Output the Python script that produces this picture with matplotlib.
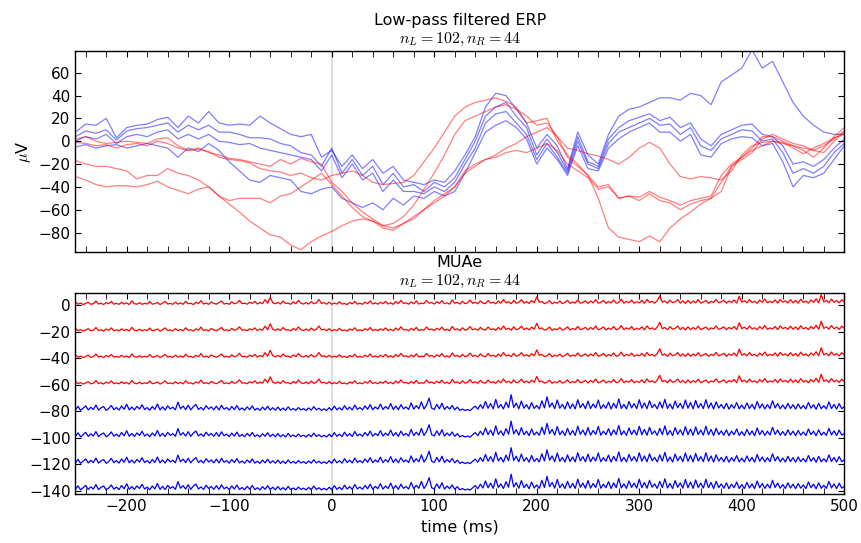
import numpy as np
import matplotlib
matplotlib.use("Agg")
import matplotlib.pyplot as plt
from matplotlib.ticker import MultipleLocator

plt.rcParams['mathtext.fontset'] = 'cm'
plt.rcParams['font.family'] = 'DejaVu Sans'

# ERP promedio por canal (uV), una muestra cada 10 ms
t_erp = np.arange(-250, 501, 10)

erp_azul_1 = [8, 15, 14, 20, 3, 12, 14, 15, 19, 21,
              12, 22, 16, 26, 16, 14, 15, 14, 22, 16,
              11, 6, 4, 6, -14, -8, -22, -12, -24, -16,
              -28, -22, -34, -36, -38, -34, -36, -26, -12, 4,
              30, 42, 40, 28, 16, -6, 6, -4, -24, 8,
              -12, -20, 6, 22, 28, 30, 34, 38, 38, 36,
              42, 40, 32, 52, 58, 64, 80, 64, 70, 52,
              34, 22, 14, 8, 6, 6]
erp_azul_2 = [4, 9, 7, 10, 1, 9, 11, 12, 14, 16,
              8, 14, 10, 14, 8, 8, 6, 3, 3, 2,
              -2, -4, -10, -12, -22, -6, -28, -16, -30, -22,
              -38, -28, -40, -38, -44, -36, -40, -32, -16, 0,
              22, 30, 34, 22, 12, -12, 2, -10, -26, 4,
              -18, -22, 2, 12, 18, 21, 24, 18, 21, 12,
              16, 2, -4, 6, 10, 14, 15, 6, 4, -4,
              -20, -18, -22, -16, -6, 2]
erp_azul_3 = [0, 4, 2, 6, -2, 4, 6, 4, 8, 10,
              2, 6, 2, 6, 0, -1, -3, -2, -6, -8,
              -10, -12, -14, -16, -26, -12, -32, -20, -34, -28,
              -44, -34, -44, -44, -46, -40, -44, -36, -20, -6,
              16, 24, 26, 16, 6, -16, -2, -14, -28, 0,
              -20, -24, -2, 8, 12, 16, 20, 14, 15, 6,
              12, -4, -8, 2, 6, 10, 9, 0, 2, -10,
              -28, -24, -28, -22, -10, -2]
erp_azul_4 = [-5, -3, -6, -4, -3, -6, -4, -2, -4, -6,
              -14, -6, -9, -2, -8, -18, -26, -34, -36, -30,
              -32, -34, -44, -46, -42, -40, -50, -54, -58, -54,
              -60, -50, -56, -48, -50, -44, -48, -44, -28, -10,
              8, 14, 18, 12, 2, -20, -6, -16, -30, -4,
              -24, -26, -6, 2, 8, 12, 16, 8, 8, 0,
              6, -12, -14, -2, 2, 4, 3, -4, -2, -18,
              -40, -30, -32, -28, -16, -4]

erp_rojo_1 = [2, 4, 0, -2, -1, 0, -1, -2, 2, 3,
              -4, -8, -7, -9, -14, -16, -17, -19, -24, -26,
              -27, -30, -28, -32, -34, -30, -28, -26, -30, -36,
              -38, -37, -36, -30, -18, -6, 8, 22, 30, 34,
              36, 38, 35, 30, 16, 18, 20, 0, -12, -20,
              -30, -50, -76, -84, -86, -88, -83, -88, -76, -68,
              -62, -55, -50, -44, -22, -14, -8, -4, 0, -2,
              -4, -6, -8, -4, 2, 9]
erp_rojo_2 = [-1, -2, -4, -3, -6, -3, -2, -4, 0, -2,
              -6, -8, -6, -10, -12, -15, -16, -18, -20, -22,
              -16, -20, -15, -18, -20, -36, -44, -54, -62, -68,
              -74, -72, -66, -56, -42, -28, -12, 6, 18, 22,
              26, 30, 32, 28, 22, 14, 16, 4, -14, -22,
              -30, -40, -38, -50, -48, -49, -44, -49, -52, -56,
              -52, -50, -48, -30, -20, -14, -6, 4, 4, 0,
              -4, -8, -14, -6, 4, 12]
erp_rojo_3 = [-17, -20, -22, -22, -24, -26, -33, -30, -30, -24,
              -28, -30, -34, -40, -48, -52, -50, -50, -50, -54,
              -48, -46, -40, -34, -28, -38, -48, -58, -66, -70,
              -74, -76, -72, -68, -60, -54, -48, -40, -26, -20,
              -16, -12, -6, -2, 4, 8, 12, 4, -6, -8,
              -11, -13, -16, -20, -14, -6, -1, -6, -20, -31,
              -33, -31, -32, -34, -26, -12, -4, -1, 0, -1,
              -6, -11, -6, -2, 3, 6]
erp_rojo_4 = [-31, -34, -38, -40, -39, -39, -40, -38, -35, -40,
              -43, -46, -42, -40, -48, -55, -62, -70, -76, -82,
              -84, -91, -95, -88, -83, -79, -74, -70, -68, -70,
              -76, -78, -72, -66, -60, -52, -46, -40, -28, -22,
              -16, -14, -10, -8, -10, -6, -2, -8, -20, -26,
              -32, -42, -40, -50, -48, -52, -46, -52, -54, -60,
              -55, -52, -50, -36, -22, -16, -10, 2, 6, 2,
              -2, -4, -8, -10, 0, 8]

# MUAe, una muestra cada 2.5 ms (por encima de la linea de base de cada canal)
t_muae = np.arange(-250, 500.1, 2.5)

muae_rojo = [2.5, 0.7, 1.5, 0.4, 1.3, 2.2, 0.6, 1.1, 3.1, 0.8, 1.4, 0.4, 2.0, 1.0, 2.8, 0.7, 1.3, 0.6, 2.1, 0.8,
             1.7, 0.4, 3.2, 1.1, 0.7, 1.8, 0.6, 1.4, 0.8, 2.7, 0.7, 1.1, 2.0, 0.4, 1.5, 2.8, 0.8, 1.3, 0.6, 2.2,
             0.7, 1.7, 0.6, 2.9, 1.0, 1.4, 0.4, 2.1, 1.1, 3.4, 0.8, 1.5, 0.6, 2.4, 1.3, 0.7, 1.8, 3.1, 0.8, 1.4,
             0.6, 2.5, 1.0, 1.7, 3.6, 1.1, 1.4, 0.7, 2.2, 1.3, 2.8, 0.8, 2.0, 1.1, 4.1, 1.4, 5.9, 1.8, 1.0, 2.1,
             0.8, 3.1, 1.3, 1.5, 0.6, 2.4, 1.1, 3.5, 1.4, 0.8, 2.0, 0.7, 2.7, 1.0, 1.7, 4.2, 1.3, 1.8, 0.7, 2.2,
             0.6, 1.5, 0.8, 2.5, 0.7, 1.3, 0.4, 2.0, 1.0, 2.9, 0.7, 1.4, 0.6, 2.2, 1.1, 3.1, 0.8, 1.7, 0.7, 2.1,
             1.0, 2.8, 0.8, 1.8, 0.6, 2.7, 1.1, 3.6, 1.3, 1.7, 0.7, 2.4, 1.0, 3.2, 0.8, 1.5, 1.1, 3.5, 1.4, 2.0,
             0.8, 2.5, 1.3, 3.4, 1.0, 1.8, 0.7, 3.9, 1.4, 2.1, 0.8, 2.9, 1.1, 1.7, 3.8, 1.3, 2.2, 1.0, 3.2, 1.5,
             1.1, 3.5, 1.5, 2.2, 1.0, 3.1, 1.4, 4.2, 1.7, 2.5, 1.1, 3.6, 1.4, 2.1, 4.1, 1.5, 2.7, 1.3, 3.4, 1.8,
             6.2, 2.1, 2.8, 1.1, 1.8, 3.4, 1.0, 2.2, 1.4, 3.1, 1.1, 2.0, 3.6, 1.3, 2.4, 1.5, 3.9, 1.4, 2.1, 3.2,
             1.3, 3.1, 1.7, 4.2, 1.4, 2.2, 3.5, 1.3, 2.7, 1.7, 3.9, 1.4, 2.1, 4.5, 1.5, 2.8, 1.8, 3.8, 1.4, 2.5,
             1.7, 3.6, 1.4, 4.3, 2.0, 2.8, 1.5, 3.4, 7.0, 2.2, 3.1, 1.4, 3.8, 1.8, 2.5, 4.2, 1.5, 3.2, 1.3, 3.6,
             1.4, 3.1, 1.8, 4.1, 1.5, 2.4, 3.5, 1.4, 2.8, 2.0, 4.3, 1.7, 2.5, 3.6, 1.4, 3.1, 2.1, 3.9, 1.5, 6.7,
             2.2, 3.4, 1.7, 4.2, 2.0, 2.9, 1.4, 3.8, 2.1, 4.6, 1.7, 2.8, 2.0, 3.9, 1.5, 4.3, 2.2, 3.2, 1.7, 4.1,
             1.8, 3.5, 1.4, 4.5, 2.0, 3.1, 1.5, 3.9, 2.1, 4.8, 1.7, 7.8, 2.4, 3.6, 1.8, 4.6, 2.1, 3.4, 1.7, 4.1,
             2.5]
muae_azul = [1.0, 3.6, 0.6, 2.2, 4.0, 0.9, 2.9, 1.2, 4.6, 0.8, 2.5, 3.5, 0.6, 2.0, 4.3, 1.1, 2.7, 0.8, 3.9, 1.4,
             5.2, 1.0, 3.1, 0.9, 3.6, 1.6, 4.8, 1.2, 2.7, 0.7, 3.5, 1.3, 5.4, 1.0, 3.2, 0.8, 4.0, 1.7, 3.0, 1.0,
             6.8, 1.8, 3.8, 1.2, 4.5, 1.0, 3.4, 5.0, 1.3, 2.8, 0.9, 4.1, 1.6, 3.2, 1.0, 3.8, 0.9, 4.4, 1.4, 2.7,
             0.8, 3.5, 1.2, 4.2, 0.9, 2.4, 0.7, 3.2, 1.1, 3.9, 0.8, 2.2, 0.6, 3.0, 1.0, 3.7, 0.8, 2.6, 0.7, 3.1,
             0.6, 2.3, 0.5, 3.2, 0.8, 2.0, 0.6, 2.7, 0.9, 1.9, 0.5, 2.4, 0.7, 3.4, 0.9, 2.2, 0.6, 1.8, 0.5, 2.6,
             0.7, 3.8, 1.0, 2.6, 0.8, 4.1, 1.2, 3.0, 0.9, 4.6, 1.3, 2.7, 1.0, 3.9, 1.4, 4.9, 1.1, 3.2, 1.5, 5.3,
             1.2, 3.5, 1.6, 5.7, 1.3, 3.8, 1.0, 4.9, 1.7, 3.2, 1.2, 6.2, 1.5, 4.1, 1.8, 7.0, 1.6, 4.6, 9.8, 2.2,
             1.3, 5.1, 1.7, 6.0, 1.2, 3.5, 1.5, 4.3, 1.0, 3.0, 0.6, 1.6, 0.5, 1.2, 0.4, 2.2, 3.8, 1.5, 4.9, 2.0,
             7.3, 2.2, 5.7, 1.7, 8.9, 2.4, 5.1, 1.6, 6.8, 2.6, 12.4, 2.8, 6.0, 1.8, 7.6, 2.2, 4.9, 1.5, 6.5, 2.0,
             4.3, 1.7, 7.8, 2.4, 10.8, 3.0, 6.2, 1.9, 8.4, 2.2, 5.1, 1.6, 7.0, 2.0, 5.4, 1.7, 8.6, 2.5, 5.7, 1.8,
             7.6, 1.9, 5.4, 2.4, 8.4, 1.8, 4.9, 2.2, 6.8, 1.6, 5.9, 2.3, 9.2, 2.0, 5.1, 1.7, 7.3, 2.4, 5.7, 1.9,
             8.6, 2.2, 6.2, 1.8, 7.8, 2.6, 5.1, 1.7, 7.0, 2.3, 8.9, 2.0, 5.4, 1.6, 7.6, 2.5, 5.9, 1.9, 8.4, 2.2,
             6.5, 1.7, 8.1, 2.4, 5.7, 1.9, 8.6, 2.2, 6.2, 1.6, 7.0, 2.3, 5.1, 1.8, 5.9, 1.5, 4.9, 2.2, 6.5, 1.7,
             4.6, 1.6, 6.2, 2.0, 5.1, 1.5, 7.3, 2.2, 5.4, 1.7, 4.9, 1.9, 7.8, 2.4, 5.7, 1.8, 4.6, 1.6, 5.9, 2.0,
             4.9, 1.5, 5.4, 1.9, 4.3, 1.6, 6.5, 2.2, 4.9, 1.4, 5.9, 1.8, 4.1, 1.7, 7.0, 2.0, 5.1, 1.6, 5.7, 1.9,
             3.2]

offsets_rojo = [0, -20, -40, -60]
offsets_azul = [-80, -100, -120, -140]

titulo = "$n_L = 102, n_R = 44$"

fig = plt.figure(figsize=(8.61, 5.43), dpi=100)
ax1 = fig.add_axes([0.0876, 0.536, 0.893, 0.370])
ax2 = fig.add_axes([0.0876, 0.0908, 0.893, 0.370], sharex=ax1)

# ERP filtrado
for y in [erp_azul_1, erp_azul_2, erp_azul_3, erp_azul_4]:
    ax1.plot(t_erp, y, color='b', lw=0.9, alpha=0.5)
for y in [erp_rojo_1, erp_rojo_2, erp_rojo_3, erp_rojo_4]:
    ax1.plot(t_erp, y, color='r', lw=0.9, alpha=0.5)
ax1.axvline(0, color='0.88', lw=1.5, zorder=0)
ax1.set_ylim(-97, 79)
ax1.yaxis.set_major_locator(MultipleLocator(20))
ax1.set_ylabel(r"$\mu$V", fontsize=11.5)
ax1.set_title("Low-pass filtered ERP\n" + titulo, fontsize=11.5)
plt.setp(ax1.get_xticklabels(), visible=False)

# MUAe, un canal debajo del otro
for off in offsets_rojo:
    ax2.plot(t_muae, np.array(muae_rojo) + off, color='r', lw=0.9)
for off in offsets_azul:
    ax2.plot(t_muae, np.array(muae_azul) + off, color='b', lw=0.9)
ax2.axvline(0, color='0.88', lw=1.5, zorder=0)
ax2.set_ylim(-142.3, 9.3)
ax2.yaxis.set_major_locator(MultipleLocator(20))
ax2.set_xlabel("time (ms)", fontsize=11.5)
ax2.set_title("MUAe\n" + titulo, fontsize=11.5)

ax2.set_xlim(-250, 500)
ax2.xaxis.set_major_locator(MultipleLocator(100))
ax2.xaxis.set_minor_locator(MultipleLocator(20))

for ax in [ax1, ax2]:
    ax.tick_params(which='both', direction='in', top=True, right=True, length=4.5, labelsize=11)
    for s in ax.spines.values():
        s.set_linewidth(1.0)

plt.savefig("out.png", dpi=100)
